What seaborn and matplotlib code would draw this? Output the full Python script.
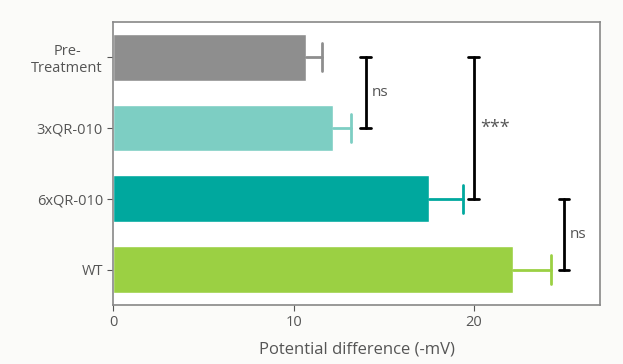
import seaborn as sns
import pandas as pd
import matplotlib.pyplot as plt
import numpy as np

# data
groups = ["Pre-\nTreatment", "3xQR-010", "6xQR-010", "WT"]
means = [10.7, 12.2, 17.5, 22.2]
errs = [0.85, 1.0, 1.9, 2.1]
colors = ["#8e8e8e", "#7dcec3", "#00a89e", "#9bd043"]

# significance brackets: (group a, group b, x position, label)
sig_a = [0, 0, 2]
sig_b = [1, 2, 3]
sig_x = [14, 20, 25]
sig_lbl = ["ns", "***", "ns"]

df = pd.DataFrame({"group": groups, "value": means})

sns.set_style("white")
plt.rcParams["font.family"] = ["Open Sans", "DejaVu Sans"]

fig, ax = plt.subplots(figsize=(6.23, 3.64), dpi=100)
fig.patch.set_facecolor("#fbfbf9")
ax.set_facecolor("white")

sns.barplot(data=df, y="group", x="value", hue="group", palette=colors,
            orient="h", width=0.66, legend=False, ax=ax, saturation=1)

# one-sided error bars in the bar colour, cap only at the far end
for i in range(len(groups)):
    hi = means[i] + errs[i]
    ax.plot([means[i], hi], [i, i], color=colors[i], lw=2)
    ax.plot([hi, hi], [i - 0.2, i + 0.2], color=colors[i], lw=2)

# significance brackets
for a, b, x, lbl in zip(sig_a, sig_b, sig_x, sig_lbl):
    ax.plot([x, x], [a, b], color="black", lw=2)
    ax.plot([x - 0.3, x + 0.3], [a, a], color="black", lw=2)
    ax.plot([x - 0.3, x + 0.3], [b, b], color="black", lw=2)
    fs = 13 if lbl == "***" else 11
    ax.text(x + 0.35, (a + b) / 2, lbl, va="center", ha="left",
            fontsize=fs, color="#555555")

ax.set_xlim(0, 27)
ax.set_ylim(3.5, -0.5)
ax.set_xticks([0, 10, 20])
ax.set_xlabel("Potential difference (-mV)", fontsize=12, color="#555555",
              labelpad=8)
ax.set_ylabel("")
ax.tick_params(axis="both", labelsize=10.5, colors="#555555", length=4,
               direction="out", bottom=True, left=True)
for t in ax.get_yticklabels():
    t.set_multialignment("center")
for s in ax.spines.values():
    s.set_color("#888888")
    s.set_linewidth(1.2)

plt.subplots_adjust(left=0.182, right=0.963, top=0.94, bottom=0.162)
plt.savefig("out.png", dpi=100, facecolor=fig.get_facecolor())
